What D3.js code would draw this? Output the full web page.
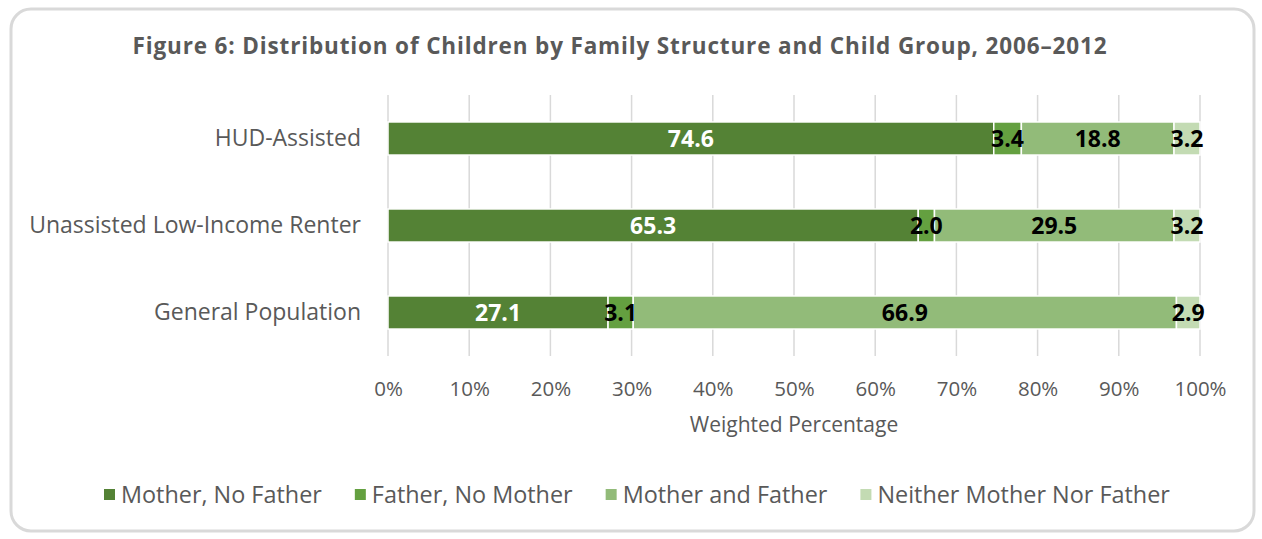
<!DOCTYPE html>
<html><head><meta charset="utf-8">
<script src="https://cdn.jsdelivr.net/npm/d3@7"></script>
<style>
html,body{margin:0;padding:0;background:#fff;}
svg text{font-family:"Open Sans",sans-serif;}
</style></head>
<body>
<svg id="chart" width="1262" height="539"></svg>
<script>
const categories = ["HUD-Assisted", "Unassisted Low-Income Renter", "General Population"];
const seriesNames = ["Mother, No Father", "Father, No Mother", "Mother and Father", "Neither Mother Nor Father"];
const motherNoFather = [74.6, 65.3, 27.1];
const fatherNoMother = [3.4, 2.0, 3.1];
const motherAndFather = [18.8, 29.5, 66.9];
const neither = [3.2, 3.2, 2.9];
const tickValues = [0,10,20,30,40,50,60,70,80,90,100];
const colors = ["#548235", "#64a040", "#92bb79", "#c3dbb3"];
const labelColors = ["#ffffff", "#000000", "#000000", "#000000"];

const seriesValues = [motherNoFather, fatherNoMother, motherAndFather, neither];
const rows = categories.map((c,i)=>{
  const r = {category:c};
  seriesNames.forEach((s,j)=>{ r[s] = seriesValues[j][i]; });
  return r;
});
const stack = d3.stack().keys(seriesNames)(rows);

const svg = d3.select("#chart");
svg.append("rect").attr("x",11).attr("y",9).attr("width",1243).attr("height",522)
  .attr("rx",20).attr("fill","#fff").attr("stroke","#d9d9d9").attr("stroke-width",3);

svg.append("text").attr("x",620).attr("y",54).attr("text-anchor","middle")
  .attr("font-size","22.5px").attr("font-weight","bold").attr("fill","#595959")
  .attr("letter-spacing","0.85px")
  .text("Figure 6: Distribution of Children by Family Structure and Child Group, 2006\u20132012");

const x = d3.scaleLinear().domain([0,100]).range([388,1200]);
const y = d3.scaleBand().domain(categories).range([95,356]).paddingInner(0.62).paddingOuter(0.31);

// gridlines
svg.append("g").selectAll("line").data(tickValues).join("line")
  .attr("x1",d=>x(d)).attr("x2",d=>x(d)).attr("y1",95).attr("y2",356)
  .attr("stroke","#d9d9d9").attr("stroke-width",1.5);

// bars
const g = svg.append("g");
stack.forEach((layer,j)=>{
  g.append("g").selectAll("rect").data(layer).join("rect")
    .attr("x",d=>x(d[0])).attr("width",d=>x(d[1])-x(d[0]))
    .attr("y",d=>y(d.data.category)).attr("height",y.bandwidth())
    .attr("fill",colors[j]).attr("stroke","#fff").attr("stroke-width",1.5);
});
stack.forEach((layer,j)=>{
  g.append("g").selectAll("text").data(layer).join("text")
    .attr("x",d=>(x(d[0])+x(d[1]))/2).attr("y",d=>y(d.data.category)+y.bandwidth()/2)
    .attr("dy","0.36em").attr("text-anchor","middle")
    .attr("font-size","23px").attr("font-weight","bold").attr("fill",labelColors[j])
    .text(d=>(d[1]-d[0]).toFixed(1));
});

// y axis
const yAxis = d3.axisLeft(y).tickSize(0).tickPadding(27);
const ya = svg.append("g").attr("transform","translate(388,0)").call(yAxis);
ya.select(".domain").remove();
ya.selectAll("text").attr("font-size","23px").attr("fill","#595959").style("font-family","Open Sans");

// x axis
const xAxis = d3.axisBottom(x).tickValues(tickValues).tickSize(0).tickPadding(13).tickFormat(d=>d+"%");
const xa = svg.append("g").attr("transform","translate(0,368)").call(xAxis);
xa.select(".domain").remove();
xa.selectAll("text").attr("font-size","20.5px").attr("fill","#595959").style("font-family","Open Sans");

svg.append("text").attr("x",794).attr("y",432).attr("text-anchor","middle")
  .attr("font-size","21px").attr("fill","#595959").text("Weighted Percentage");

// legend
const lg = svg.append("g");
let lx = 104;
seriesNames.forEach((s,j)=>{
  lg.append("rect").attr("x",lx).attr("y",489).attr("width",11).attr("height",11).attr("fill",colors[j]);
  const t = lg.append("text").attr("x",lx+17).attr("y",503).attr("font-size","23.4px").attr("fill","#595959").text(s);
  lx += 17 + t.node().getComputedTextLength() + 33;
});
</script>
</body></html>
